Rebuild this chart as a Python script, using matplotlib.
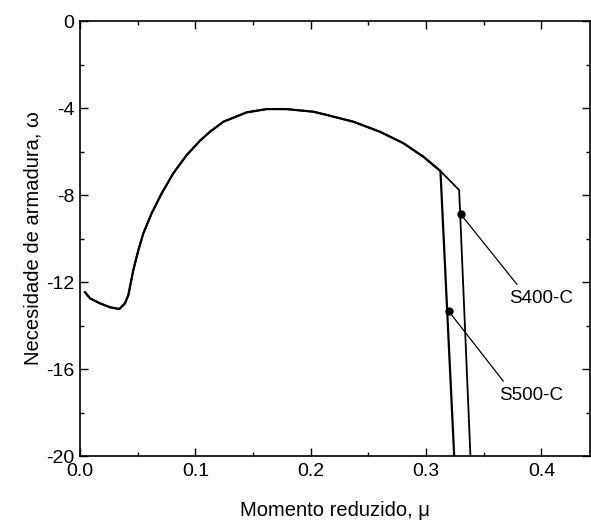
import matplotlib
matplotlib.use("Agg")
import matplotlib.pyplot as plt
from matplotlib.ticker import MultipleLocator

plt.rcParams['font.family'] = ['Liberation Sans', 'DejaVu Sans']

# Common part of the curve (both steels)
mu_common = [0.0043, 0.0087, 0.0173, 0.026, 0.0341, 0.039, 0.0419, 0.0462, 0.0506, 0.0549, 0.0621,
             0.0708, 0.0809, 0.0925, 0.1041, 0.1127, 0.1243, 0.1445, 0.1618, 0.179,
             0.2024, 0.214, 0.237, 0.260, 0.2804, 0.2977, 0.3125]
w_common = [-12.47, -12.75, -12.98, -13.16, -13.24, -12.98, -12.6, -11.45, -10.53, -9.76, -8.84,
            -7.92, -7.00, -6.16, -5.50, -5.09, -4.63, -4.20, -4.05, -4.05,
            -4.17, -4.32, -4.63, -5.09, -5.62, -6.24, -6.90]

# S500-C branch
mu_s500 = [0.3125, 0.3244]
w_s500 = [-6.90, -20.0]
# S400-C branch
mu_s400 = [0.3125, 0.3287, 0.3385]
w_s400 = [-6.90, -7.77, -20.0]

# Marker points and labels
labels = ["S400-C", "S500-C"]
mark_mu = [0.3299, 0.3195]
mark_w = [-8.87, -13.33]
lead_mu = [0.3787, 0.3669]
lead_w = [-12.1, -16.55]
text_mu = [0.372, 0.3635]
text_w = [-12.74, -17.2]

fig = plt.figure(figsize=(5.91, 5.20), dpi=100)
ax = fig.add_axes([0.1354, 0.123, 0.8626, 0.8366])

ax.plot(mu_common + mu_s500[1:], w_common + w_s500[1:], color='black', lw=1.6)
ax.plot(mu_common + mu_s400[1:], w_common + w_s400[1:], color='black', lw=1.3)

for i in range(2):
    ax.plot([mark_mu[i], lead_mu[i]], [mark_w[i], lead_w[i]], color='black', lw=0.9)
    ax.plot(mark_mu[i], mark_w[i], 'o', color='black', ms=5)
    ax.text(text_mu[i], text_w[i], labels[i], fontsize=13.5, ha='left', va='center')

ax.set_xlim(0, 0.442)
ax.set_ylim(-20, 0)
ax.xaxis.set_major_locator(MultipleLocator(0.1))
ax.xaxis.set_minor_locator(MultipleLocator(0.05))
ax.yaxis.set_major_locator(MultipleLocator(4))
ax.yaxis.set_minor_locator(MultipleLocator(2))
ax.xaxis.set_major_formatter(plt.FuncFormatter(lambda v, p: f"{v:.1f}"))
ax.yaxis.set_major_formatter(plt.FuncFormatter(lambda v, p: f"{v:.0f}"))

ax.tick_params(which='both', direction='in', top=True, right=True, labelsize=14, width=1.0)
ax.tick_params(which='major', length=6)
ax.tick_params(axis='x', which='major', pad=5)
ax.tick_params(axis='y', which='major', pad=4)
ax.tick_params(which='minor', length=3)
for s in ax.spines.values():
    s.set_linewidth(1.2)

ax.set_xlabel("Momento reduzido, μ", fontsize=14.5, labelpad=15)
ax.set_ylabel("Necesidade de armadura, ω", fontsize=14.5, labelpad=3)

fig.savefig("out.png", dpi=100)
